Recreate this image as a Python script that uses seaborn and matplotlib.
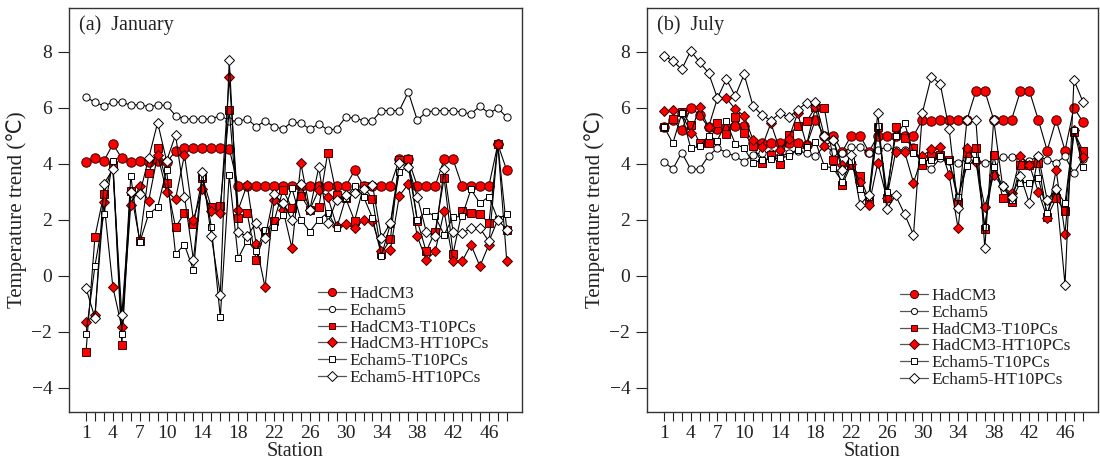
import numpy as np
import pandas as pd
import matplotlib
matplotlib.use('Agg')
import matplotlib.pyplot as plt
import seaborn as sns
from matplotlib.lines import Line2D

sns.set_style('ticks')
plt.rcParams['font.family'] = ['Liberation Serif', 'DejaVu Sans']

stations = list(range(1, 49))
tick_labels = [1, 4, 7, 10, 14, 18, 22, 26, 30, 34, 38, 42, 46]
series_names = ['HadCM3', 'Echam5', 'HadCM3-T10PCs', 'HadCM3-HT10PCs',
                'Echam5-T10PCs', 'Echam5-HT10PCs']

# ---- January ----
jan_hadcm3 = [4.05, 4.2, 4.1, 4.7, 4.2, 4.05, 4.1, 4.08, 4.1, 4.05, 4.45, 4.55, 4.55, 4.55, 4.55, 4.55, 4.54,
              3.19, 3.19, 3.19, 3.19, 3.19, 3.19, 3.19, 3.19, 3.19, 3.19, 3.19, 3.19, 3.19, 3.76,
              3.21, 3.21, 3.21, 3.21, 4.16, 4.16, 3.21, 3.21, 3.21, 4.16, 4.16, 3.21, 3.21, 3.21, 3.21, 4.7, 3.76]
jan_echam5 = [6.37, 6.2, 6.06, 6.2, 6.2, 6.09, 6.11, 6.04, 6.09, 6.09, 5.72, 5.6, 5.6, 5.6, 5.6, 5.72, 5.54,
              5.52, 5.6, 5.33, 5.52, 5.33, 5.24, 5.49, 5.45, 5.24, 5.42, 5.21, 5.24, 5.66, 5.63, 5.54, 5.54, 5.9,
              5.9, 5.9, 6.56, 5.56, 5.84, 5.9, 5.9, 5.9, 5.84, 5.78, 6.06, 5.8, 5.98, 5.66]
jan_had_t = [-2.72, 1.4, 2.92, 3.96, -2.47, 3.04, 1.26, 3.66, 4.55, 3.33, 1.73, 2.24, 1.85, 3.51, 2.44, 2.48, 5.92,
             2.06, 2.24, 0.57, 1.58, 1.94, 3.07, 2.42, 2.86, 2.36, 2.44, 4.4, 2.87, 2.77, 1.97, 3.19, 2.74,
             0.79, 1.31, 4.14, 4.16, 1.97, 0.87, 1.58, 3.49, 0.79, 2.3, 2.26, 2.21, 1.88, 4.7, 1.65]
jan_had_ht = [-1.65, -1.39, 2.64, -0.4, -1.84, 2.53, 3.19, 2.68, 4.32, 3.01, 2.74, 4.32, 2.0, 3.1, 2.32, 2.26, 7.09,
              2.36, 3.25, 1.13, -0.41, 2.71, 2.36, 0.99, 4.02, 2.36, 3.07, 2.83, 1.77, 1.85, 1.7, 1.98, 1.94,
              0.87, 0.93, 2.86, 3.27, 1.41, 0.57, 0.87, 2.3, 0.52, 0.52, 1.11, 0.34, 1.11, 4.7, 0.52]
jan_ech_t = [-2.07, 0.36, 2.21, 4.11, -2.07, 3.57, 1.19, 2.21, 2.45, 3.78, 0.78, 1.11, 0.2, 3.54, 1.76, -1.47, 3.6,
             0.63, 1.26, 0.87, 1.65, 1.74, 2.18, 3.13, 2.0, 1.58, 2.0, 2.26, 1.7, 2.77, 3.21, 2.83, 2.06,
             0.72, 1.85, 3.72, 3.9, 2.0, 2.3, 2.12, 1.46, 2.1, 2.12, 3.09, 2.59, 2.83, 2.02, 2.21]
jan_ech_ht = [-0.44, -1.5, 3.29, 3.8, -1.41, 3.0, 2.92, 4.2, 5.47, 4.1, 5.03, 2.83, 0.57, 3.72, 1.41, -0.67, 7.7,
              1.55, 1.41, 1.9, 1.35, 2.91, 2.59, 2.0, 3.28, 2.36, 3.87, 1.88, 2.71, 2.9, 2.95, 3.1, 3.25,
              1.35, 1.88, 4.02, 3.9, 2.83, 1.58, 1.41, 3.8, 1.58, 1.53, 1.7, 1.7, 1.23, 2.0, 1.65]

# ---- July ----
jul_hadcm3 = [5.3, 5.55, 5.2, 6.0, 5.75, 5.3, 5.23, 5.3, 5.35, 5.35, 4.73, 4.73, 4.73, 4.73, 4.73, 4.73,
              4.67, 5.57, 5.0, 5.0, 4.43, 5.0, 5.0, 4.43, 5.0, 5.0, 5.0, 5.0, 5.0, 5.57, 5.51,
              5.57, 5.57, 5.57, 5.57, 6.6, 6.6, 5.57, 5.57, 5.57, 6.6, 6.6, 5.57, 4.47, 5.57, 4.47, 6.0, 5.5]
jul_echam5 = [4.08, 3.81, 4.4, 3.81, 3.81, 4.28, 4.56, 4.4, 4.26, 4.08, 4.32, 4.4, 4.4, 4.26, 4.38, 4.47,
              4.38, 4.28, 4.64, 4.43, 4.38, 4.59, 4.59, 4.38, 4.5, 4.59, 4.5, 4.5, 4.59, 4.02, 3.81,
              4.2, 4.11, 4.04, 4.16, 4.11, 4.04, 4.11, 4.23, 4.23, 4.14, 4.11, 4.26, 4.14, 4.04, 4.26, 3.66, 4.16]
jul_had_t = [5.3, 5.59, 5.86, 5.4, 4.75, 4.73, 5.45, 5.05, 5.66, 5.09, 4.65, 4.02, 4.3, 4.0, 5.03, 5.35,
             5.51, 6.01, 5.98, 4.14, 3.25, 3.96, 3.55, 2.71, 5.33, 2.77, 5.3, 4.91, 4.56, 3.96, 4.26,
             4.3, 4.14, 2.65, 4.38, 4.56, 1.67, 4.32, 2.77, 2.65, 3.96, 3.96, 4.02, 2.1, 2.77, 2.3, 5.15, 4.47]
jul_had_ht = [5.88, 5.92, 5.8, 5.11, 6.01, 5.3, 6.34, 6.34, 5.95, 5.71, 4.85, 4.6, 5.45, 4.5, 4.9, 5.8,
              4.67, 6.01, 4.62, 4.85, 3.96, 4.0, 3.36, 2.53, 4.04, 2.77, 4.43, 4.43, 3.33, 4.28, 4.52,
              4.59, 3.6, 1.7, 4.56, 4.08, 2.45, 3.6, 3.19, 2.95, 4.26, 3.96, 3.01, 2.06, 3.78, 1.5, 5.21, 4.23]
jul_ech_t = [5.33, 4.73, 5.8, 4.56, 4.62, 5.0, 4.83, 5.51, 4.71, 4.56, 4.02, 4.14, 4.16, 4.2, 4.28, 4.5,
             4.6, 4.79, 3.92, 3.84, 3.36, 4.1, 3.09, 2.83, 5.35, 3.01, 5.0, 5.45, 4.38, 4.1, 4.14,
             4.26, 4.1, 2.83, 3.92, 4.14, 1.76, 3.9, 3.19, 2.71, 3.33, 3.33, 3.5, 2.24, 3.07, 2.59, 5.21, 3.9]
jul_ech_ht = [7.86, 7.67, 7.37, 8.03, 7.62, 7.25, 6.34, 7.02, 6.42, 7.19, 6.06, 5.74, 5.54, 5.8, 5.66, 5.92,
              6.18, 6.22, 5.0, 4.85, 3.78, 4.3, 2.53, 2.9, 5.8, 2.38, 2.87, 2.2, 1.47, 5.83, 7.11,
              6.85, 5.23, 2.41, 5.57, 5.57, 0.99, 5.57, 3.19, 2.83, 3.57, 2.59, 4.28, 2.71, 3.09, -0.32, 6.99, 6.22]

jan_series = [jan_hadcm3, jan_echam5, jan_had_t, jan_had_ht, jan_ech_t, jan_ech_ht]
jul_series = [jul_hadcm3, jul_echam5, jul_had_t, jul_had_ht, jul_ech_t, jul_ech_ht]

RED = '#ff0000'
REDEDGE = '#3a0000'
styles = [
    dict(marker='o', markersize=6.8, markerfacecolor=RED, markeredgecolor=REDEDGE),
    dict(marker='o', markersize=5.2, markerfacecolor='white', markeredgecolor='k'),
    dict(marker='s', markersize=5.6, markerfacecolor=RED, markeredgecolor=REDEDGE),
    dict(marker='D', markersize=5.6, markerfacecolor=RED, markeredgecolor=REDEDGE),
    dict(marker='s', markersize=4.6, markerfacecolor='white', markeredgecolor='k'),
    dict(marker='D', markersize=5.6, markerfacecolor='white', markeredgecolor='k'),
]

fig = plt.figure(figsize=(11, 4.65), dpi=100)
axL = fig.add_axes([69 / 1100, 53 / 465, 453 / 1100, 404 / 465])
axR = fig.add_axes([647 / 1100, 53 / 465, 451 / 1100, 404 / 465])

TXT = '#222222'

def draw(ax, series, title, leg_x, leg_y):
    for name, vals, st in zip(series_names, series, styles):
        df = pd.DataFrame({'Station': stations, 'val': vals})
        sns.lineplot(data=df, x='Station', y='val', ax=ax, color='k', lw=0.8,
                     markeredgewidth=0.7, legend=False, **st)
    ax.set_xlim(-0.9, 49.7)
    ax.set_ylim(-4.86, 9.56)
    ax.set_yticks([-4, -2, 0, 2, 4, 6, 8])
    ax.set_xticks(stations)
    ax.set_xticklabels([str(s) if s in tick_labels else '' for s in stations])
    ax.tick_params(axis='both', direction='out', labelsize=14, width=0.8,
                   color='#222222', labelcolor=TXT)
    ax.tick_params(axis='y', length=8, pad=4)
    ax.tick_params(axis='x', length=6.5, pad=3)
    for sp in ax.spines.values():
        sp.set_visible(True)
        sp.set_linewidth(1.0)
        sp.set_color('#333333')
    ax.set_xlabel('Station', fontsize=14.5, labelpad=0, color=TXT)
    ax.set_ylabel('Temperature trend (\u2103)', fontsize=15, labelpad=3, color=TXT)
    ax.text(0.022, 0.982, title, transform=ax.transAxes, fontsize=14.5, va='top',
            ha='left', color=TXT)
    handles = [Line2D([], [], color='#555555', lw=0.9, markeredgewidth=0.7,
                      **{**st, 'markersize': st['markersize'] * 0.85})
               for st in styles]
    leg = ax.legend(handles, series_names, loc='center left', bbox_to_anchor=(leg_x, leg_y),
                    frameon=False, fontsize=12.5, handlelength=1.6, handletextpad=0.2,
                    labelspacing=0.03, borderpad=0, borderaxespad=0)
    for t in leg.get_texts():
        t.set_color(TXT)

draw(axL, jan_series, '(a)  January', 0.5497, 0.188)
draw(axR, jul_series, '(b)  July', 0.561, 0.183)

fig.savefig('out.png', dpi=100)
